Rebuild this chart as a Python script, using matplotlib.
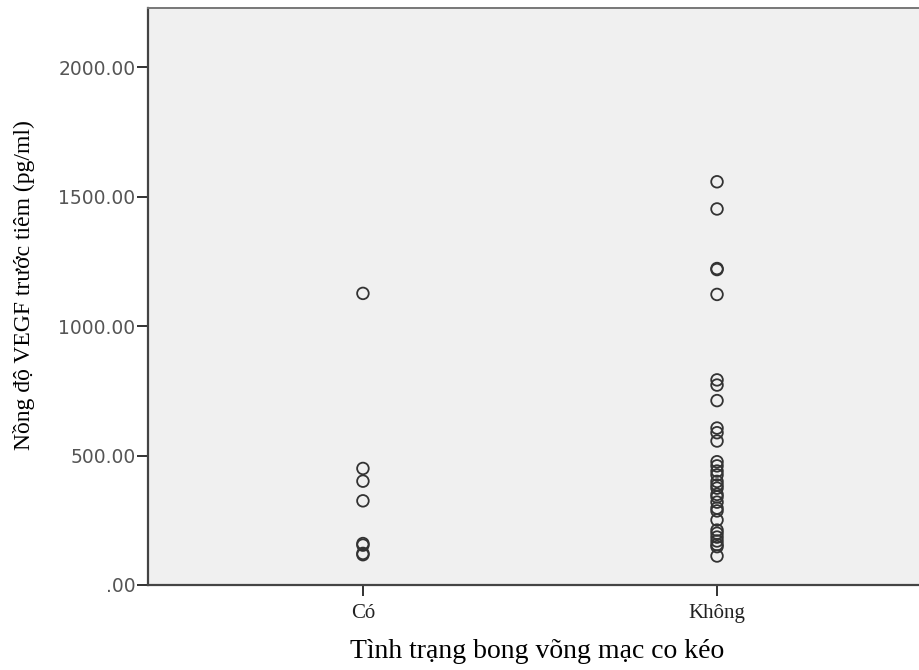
import matplotlib.pyplot as plt
from matplotlib.ticker import FixedLocator, FuncFormatter

# data
categories = ["Có", "Không"]
vegf_co = [1126, 450, 401, 325, 160, 154, 122, 117]
vegf_khong = [1557, 1452, 1222, 1218, 1122, 792, 772, 712, 606, 588, 556,
              476, 460, 440, 425, 400, 386, 374, 350, 340, 320, 297, 286,
              251, 212, 200, 185, 170, 156, 148, 112]
y_ticks = [0, 500, 1000, 1500, 2000]

W, H = 919, 670
fig = plt.figure(figsize=(W / 100, H / 100), dpi=100)
fig.patch.set_facecolor("white")

left, bottom, top = 148, 585, 8
ax = fig.add_axes([left / W, (H - bottom) / H, 779 / W, (bottom - top) / H])
ax.set_facecolor("#f0f0f0")

groups = [vegf_co, vegf_khong]
for i, vals in enumerate(groups):
    ax.scatter([i + 1] * len(vals), vals, s=70, facecolors="none",
               edgecolors="#333333", linewidths=1.3, zorder=3)

ax.set_xlim(0.393, 2.593)
ax.set_ylim(0, 2228)

ax.yaxis.set_major_locator(FixedLocator(y_ticks))
ax.yaxis.set_major_formatter(FuncFormatter(lambda v, p: ("%.2f" % v).lstrip("0") if v == 0 else "%.2f" % v))
ax.set_xticks([1, 2])
ax.set_xticklabels(categories, family="Liberation Serif", fontsize=15, color="#222222")

for lab in ax.get_yticklabels():
    lab.set_family("DejaVu Sans")
    lab.set_fontsize(13.5)
    lab.set_color("#555555")

ax.tick_params(axis="both", direction="out", length=8, width=1.3, color="#222222")
ax.tick_params(axis="x", pad=6)
ax.tick_params(axis="y", pad=1)

ax.spines["right"].set_visible(False)
for s in ["left", "bottom"]:
    ax.spines[s].set_color("#444444")
    ax.spines[s].set_linewidth(1.6)
ax.spines["top"].set_color("#777777")
ax.spines["top"].set_linewidth(1.4)

ax.set_xlabel("Tình trạng bong võng mạc co kéo", family="Liberation Serif",
              fontsize=20, labelpad=11, color="black")
ax.set_ylabel("Nồng độ VEGF trước tiêm (pg/ml)", family="Liberation Serif",
              fontsize=17, color="black")
ax.yaxis.set_label_coords(-0.145, 0.52)

fig.savefig("out.png", dpi=100)
